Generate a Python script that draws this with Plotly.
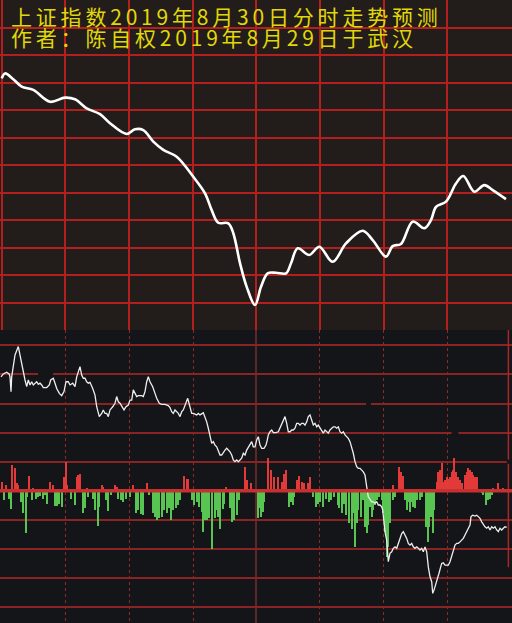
"""Shanghai index intraday forecast chart (upper: forecast curve, lower: tick line + volume bars)."""

import plotly.graph_objects as go

# ---- data -----------------------------------------------------------------
# time axis: 0..256 slots across the day (8 columns of 32)
top_t = [0.85, 2.5, 6.65, 10.85, 16.65, 25, 32.5, 37.5, 43.35, 50, 55, 63.35, 67.5,
         71.65, 76.65, 81.65, 88.35, 96.65, 102.5, 105.85, 109.15, 114.15, 116.65,
         120, 123.35, 127.5, 130.5, 133.85, 138, 143, 145.5, 148.85, 154.65, 159.65,
         166.35, 173, 181.35, 186.35, 193, 196.35, 200.5, 206.35, 212.15, 215.5, 218,
         223, 228, 231.65, 237.15, 242.15, 246.35, 253]
top_v = [91.5, 93.3, 91.2, 88.5, 87.3, 83.0, 84.5, 83.9, 80.6, 78.5, 75.2, 71.3, 73.0,
         72.7, 68.5, 65.5, 63.0, 55.7, 49.7, 43.6, 39.0, 38.8, 35.2,
         24.3, 15.7, 9.1, 15.7, 20.6, 20.8, 20.6, 24.3, 29.7, 27.3, 30.3,
         24.8, 31.5, 36.1, 32.7, 26.7, 30.5, 31.3, 39.4, 37.0, 40.0, 44.8,
         46.7, 53.3, 56.0, 50.3, 52.7, 50.9, 47.6]

# lower tick line, morning
line_t_am = [0.5, 1.65, 3.35, 4.65, 5, 5.5, 5.85, 6.35, 6.65, 7.5, 9.15, 10.35, 11.35,
             11.65, 12.5, 13.35, 14.15, 15, 15.85, 16.65, 18.35, 19.15, 20, 20.85, 21.65,
             23.35, 24.65, 25.35, 26.65, 27.5, 28.35, 29.65, 30.85, 32, 33, 34.15, 35,
             36.35, 37.5, 38.35, 39.15, 40, 40.85, 41.65, 42.5, 43.35, 44.15, 45, 46.35,
             47.5, 48.35, 49.65, 50.85, 51.65, 52.5, 53.35, 54.15, 55, 56.35, 57.5, 58.35,
             59.15, 60, 60.85, 62, 63, 64.15, 65, 65.85, 66.65, 67.5, 68.35, 69.15, 70.85,
             71.65, 72.5, 73.35, 74.15, 75, 76.35, 77.5, 78.35, 79.65, 80.85, 82.5, 84.15, 85]
line_v_am = [39.2, 40.2, 40.8, 40.1, 39.2, 34.1, 39.2, 42.1, 42.7, 46.7, 49.6, 45.6, 42.1,
             40.1, 38.1, 35.8, 38.1, 36.4, 37.5, 36.4, 37.5, 36.6, 37.0, 36.4, 35.5,
             35.5, 36.4, 38.1, 38.7, 37.0, 35.2, 33.5, 32.7, 34.1, 37.5, 37.5, 36.4,
             37.0, 35.8, 39.2, 41.0, 42.7, 39.8, 38.7, 38.7, 37.5, 37.0, 37.3, 35.2,
             32.9, 28.9, 25.5, 26.6, 27.8, 26.6, 26.6, 25.5, 27.8, 28.9, 30.1, 32.4,
             30.6, 30.1, 28.9, 27.8, 28.9, 29.5, 31.2, 31.2, 34.7, 33.5, 32.4, 32.7, 32.7,
             32.4, 34.1, 37.5, 39.2, 37.5, 35.8, 33.5, 31.8, 30.1, 29.7, 29.7, 29.3, 28.6]

# lower tick line, midday
line_t_mid = [85.85, 86.65, 87.5, 88.35, 89.15, 90, 90.85, 91.65, 92.5, 93.35, 93.85, 94.5,
              95.35, 95.85, 96.65, 98.35, 99.15, 100, 101.65, 102.5, 103.35, 104.15, 104.65,
              105.35, 105.85, 106.65, 107.5, 108.35, 109.15, 110, 110.85, 111.65, 112.5,
              113.35, 114.15, 115, 115.85, 116.65, 117.5, 118.35, 119.15, 120, 120.85,
              121.65, 122.5, 123.35, 124.15, 125, 125.85, 126.65, 127.5, 128.35, 129.15,
              130, 130.85, 132, 133, 133.65, 134.15, 135, 135.85, 136.65, 138, 139.15, 140,
              140.85, 141.65, 142.5, 143.35, 144.15, 145, 145.85, 146.65, 147.5, 148.35,
              149.15, 150, 150.85, 151.65, 152.5, 153.35, 154.15, 155, 155.85, 156.65,
              157.5, 158.35, 159.15, 160, 160.85, 161.65, 162.5, 163.35, 164.15, 165,
              165.85, 166.65, 167.5, 168.35, 169.15, 170]
line_v_mid = [27.2, 26.6, 27.8, 27.2, 26.6, 25.5, 27.2, 27.8, 29.5, 30.6, 31.8, 30.1,
              27.8, 26.6, 26.6, 26.1, 26.6, 26.1, 26.8, 25.5, 23.7, 21.5, 19.8,
              18.0, 16.3, 16.9, 15.7, 15.1, 14.0, 12.3, 12.3, 13.4, 14.0,
              14.6, 14.0, 13.4, 12.3, 10.6, 10.0, 10.6, 10.0, 10.6, 11.2,
              12.9, 12.3, 14.0, 15.1, 16.3, 16.9, 15.1, 15.1, 17.5, 18.6,
              15.7, 14.6, 14.6, 15.7, 17.5, 19.2, 20.3, 20.9, 20.0, 20.0, 20.3, 21.5,
              23.2, 24.3, 25.5, 23.2, 20.3, 20.3, 20.9, 20.9, 21.5, 23.2,
              23.2, 22.6, 23.2, 23.2, 22.6, 23.7, 25.5, 26.1, 24.3, 22.6,
              23.2, 22.0, 22.6, 21.5, 20.3, 19.8, 20.9, 20.3, 19.8, 20.9,
              21.5, 22.0, 22.0, 21.5, 22.0, 20.3]

# lower tick line, afternoon
line_t_pm = [170.85, 171.65, 172.5, 173.35, 174.15, 175, 175.85, 176.65, 177.5, 178.35,
             179.15, 180, 180.85, 181.65, 182.5, 183, 183.35, 184.15, 185, 185.85, 186.65,
             187.5, 188.35, 189.15, 190, 190.85, 191.35, 191.65, 192.15, 192.5, 193.35,
             193.85, 194.15, 195, 195.85, 196.65, 197.5, 198.35, 199.15, 200, 200.85,
             201.65, 202.5, 203.35, 204.15, 205, 205.85, 206.65, 207.5, 208.35, 209.15,
             210, 210.85, 211.65, 212.5, 213.35, 214.15, 215, 215.85, 216.35, 217, 217.85,
             218.65, 219.5, 220.35, 220.85, 221.65, 222.5, 223.35, 224.15, 225, 225.85,
             226.65, 227.5, 228.35, 229.15, 230, 230.85, 231.65, 232.5, 233.35, 234.15,
             235, 235.5, 236.35, 237.5, 238.35, 239.15, 240, 240.85, 241.65, 242.5,
             243.35, 244.15, 245, 245.85, 246.65, 247.5, 248.35, 249.15, 250, 250.85,
             251.65, 252.5, 253.35]
line_v_pm = [19.8, 20.3, 19.2, 18.6, 18.0, 16.9, 15.1, 12.9, 10.0, 8.3,
             7.7, 7.7, 7.1, 6.5, 5.4, 3.7, 1.4, -2.1, -3.2, -3.8, -3.8,
             -4.3, -3.8, -4.9, -4.9, -5.5, -6.6, -8.9, -11.2, -14.1, -17.0,
             -20.4, -24.4, -21.5, -21.0, -19.8, -19.3, -19.8, -18.1, -15.8, -14.7,
             -14.1, -15.2, -16.4, -18.1, -18.7, -18.1, -19.3, -19.8, -19.3, -19.8,
             -20.4, -19.8, -21.0, -19.3, -21.0, -26.2, -29.6, -31.3, -35.3, -34.2, -31.9,
             -30.7, -28.4, -26.2, -25.0, -24.8, -25.6, -25.6, -25.6, -24.4, -22.7,
             -20.4, -18.7, -18.1, -18.1, -17.6, -17.0, -16.4, -15.2, -14.1, -12.9,
             -11.8, -8.9, -8.4, -8.7, -8.4, -8.9, -9.5, -10.7, -11.8, -12.4,
             -12.9, -12.4, -13.5, -12.4, -12.9, -12.4, -13.5, -14.1, -12.9, -13.5,
             -12.9, -12.4, -12.6]

# buy (red) / sell (green) bars
red_t = [0.85, 3, 6.15, 7.5, 8.35, 9.15, 14.65, 16.65, 25, 26.65, 32, 32.85, 33.35, 38.35,
         39, 40, 43.35, 50.85, 51.65, 57.5, 58.35, 66.35, 73.35, 92.15, 93.35, 94.15, 113,
         122.5, 123.35, 125.35, 134.15, 135.5, 137.15, 138.85, 141, 142.15, 143, 148.35,
         149.65, 151, 152.15, 153.85, 155, 196.35, 199.5, 200.35, 201.65, 218.35, 219.15,
         220, 220.85, 221.65, 222.5, 223.35, 224.15, 225, 225.85, 226.65, 227.15, 228,
         229.15, 230, 230.85, 232.5, 233.35, 234.15, 235, 235.85, 236.65, 237.5, 238.35,
         246.65, 249.15, 251.65, 252.5]
red_v = [3.1, 2.0, 8.8, 7.7, 2.5, 2.0, 5.1, 0.8, 3.1, 2.0, 4.8, 10.0, 2.0, 4.8,
         5.4, 5.7, 0.8, 2.0, 1.4, 2.0, 1.4, 2.0, 2.5, 5.1, 3.9, 3.9, 1.4,
         8.3, 3.7, 2.8, 11.4, 7.1, 4.8, 4.8, 3.1, 5.9, 7.1, 3.7,
         5.1, 3.1, 2.5, 2.5, 4.6, 2.0, 8.3, 6.5, 5.1, 3.1, 6.5,
         7.1, 9.4, 3.1, 3.7, 4.8, 4.2, 4.8, 6.5, 7.1, 11.1, 6.5,
         4.8, 3.7, 2.5, 5.4, 6.5, 7.7, 7.1, 6.5, 5.4, 4.8, 4.8,
         0.8, 2.8, 0.8, 0.5]

green_t = [2, 4.65, 5.5, 10.35, 11.35, 13, 13.65, 15.85, 18, 19.15, 20, 21.35, 22.5, 23.65,
           27.5, 28.35, 29.65, 30.85, 35.35, 37.5, 41.35, 42.5, 44.15, 46.65, 47.5, 48.85,
           49.65, 53, 54.15, 55.35, 59.15, 60.35, 61.35, 63, 65, 68, 69.15, 70.35, 71.35,
           74.5, 76.35, 77.5, 78.65, 79.65, 80.85, 82, 83.35, 84.5, 85.5, 86.65, 87.85,
           89.15, 90, 95.85, 97, 98.35, 99.65, 100.85, 101.65, 102.5, 103.65, 104.65,
           106.15, 107.5, 108.35, 109.15, 110, 111.35, 112, 115, 115.85, 117.15, 118.35,
           119.65, 128.85, 129.65, 130.5, 131.35, 132.15, 144.65, 145.5, 146.35, 147.15,
           156.35, 158, 158.85, 160, 161.35, 163, 164.35, 165.5, 167.15, 168.85, 169.65,
           170.85, 172, 173, 174.65, 175.85, 176.65, 177.5, 178.35, 179.15, 180.35,
           181.35, 182.5, 183.35, 184.15, 185, 185.85, 186.65, 187.5, 188.35, 189.65,
           190.85, 191.65, 192.5, 193.35, 194.15, 195, 196.65, 197.5, 202.5, 203.35,
           204.15, 205, 205.85, 206.65, 207.5, 208.35, 210, 210.85, 213, 213.85, 214.65,
           215.5, 216.35, 217.15, 240.85, 241.65, 242.85, 243.85, 245, 245.85]
green_v = [-3.2, -2.7, -6.4, -3.8, -7.6, -14.7, -2.1, -3.2, -2.7, -2.1, -1.8, -2.7, -1.5, -4.4,
           -5.3, -5.3, -4.4, -5.5, -2.7, -4.9, -7.8, -6.1, -2.1, -2.7, -6.6, -12.2,
           -5.5, -3.2, -6.9, -1.5, -2.7, -3.2, -3.8, -2.7, -2.3, -7.8, -6.6, -8.0, -8.4,
           -1.5, -7.8, -9.0, -10.1, -9.5, -9.0, -6.6, -7.8, -6.1, -10.1, -6.6, -6.1,
           -4.9, -3.2, -3.2, -4.9, -3.8, -5.5, -7.2, -14.1, -9.9, -10.1, -9.5,
           -20.2, -9.5, -6.6, -9.0, -13.3, -6.4, -4.4, -6.1, -10.7, -10.1, -8.4,
           -3.2, -9.5, -6.1, -9.0, -7.2, -3.8, -5.5, -3.8, -4.9, -2.1,
           -2.1, -5.5, -4.4, -3.8, -5.5, -2.7, -3.8, -3.2, -2.1, -4.9, -6.1,
           -7.8, -4.4, -8.4, -11.2, -13.0, -7.8, -19.3, -11.2, -6.6, -9.0,
           -3.2, -12.4, -14.7, -11.8, -5.5, -9.0, -6.6, -4.9, -3.2, -2.1,
           -3.2, -7.8, -14.1, -22.7, -19.3, -11.2, -3.2, -2.1, -3.2, -6.6,
           -3.8, -7.2, -3.8, -5.5, -6.1, -3.2, -3.2, -2.1, -12.4, -17.6, -12.4,
           -9.0, -14.7, -6.6, -0.9, -1.5, -4.9, -3.2, -2.7, -1.5]

title_lines = ["上证指数2019年8月30日分时走势预测", "作者：陈自权2019年8月29日于武汉"]

line_t = line_t_am + line_t_mid + line_t_pm
line_v = line_v_am + line_v_mid + line_v_pm
assert len(line_t) == len(line_v) and len(red_t) == len(red_v) and len(green_t) == len(green_v)

# ---- styling --------------------------------------------------------------
W, H = 512, 623
SPLIT = 293 / 623  # paper y where upper panel starts
TOP_BG = "#221c1a"
LOW_BG = "#141518"
TOP_GRID = "#b31f1f"
LOW_GRID = "#8a2424"
YELLOW = "#e0d808"

fig = go.Figure()

fig.add_trace(go.Scatter(
    x=top_t, y=top_v, mode="lines", xaxis="x", yaxis="y",
    line=dict(color="#ffffff", width=2.6, shape="spline", smoothing=1.0),
    hoverinfo="skip", showlegend=False,
))
fig.add_trace(go.Bar(
    x=red_t, y=red_v, xaxis="x2", yaxis="y2", width=1.0,
    marker=dict(color="#e23a38", line=dict(width=0)), showlegend=False,
))
fig.add_trace(go.Bar(
    x=green_t, y=green_v, xaxis="x2", yaxis="y2", width=1.0,
    marker=dict(color="#58c452", line=dict(width=0)), showlegend=False,
))
fig.add_trace(go.Scatter(
    x=line_t, y=line_v, mode="lines", xaxis="x2", yaxis="y2",
    line=dict(color="#eeeeee", width=1.3),
    hoverinfo="skip", showlegend=False,
))

shapes = [
    dict(type="rect", xref="paper", yref="paper", x0=0, x1=1, y0=SPLIT, y1=1,
         fillcolor=TOP_BG, line=dict(width=0), layer="below"),
    # centre divider and right border of lower panel
    dict(type="line", xref="x2", yref="paper", x0=128, x1=128, y0=0, y1=SPLIT,
         line=dict(color="#7a2e2e", width=1.5), layer="between"),
    dict(type="line", xref="x2", yref="y2", x0=254.2, x1=254.2, y0=55.3, y1=-26.3,
         line=dict(color="#a82828", width=1.5), layer="between"),
    # bar baseline
    dict(type="line", xref="x2", yref="y2", x0=0, x1=256, y0=0, y1=0,
         line=dict(color="#c63030", width=3.5), layer="above"),
]
# small breaks in the lower grid lines
for x0, x1, yv in [(19, 26.5, 40), (183, 185.5, 30), (225.8, 229.2, 20), (253.4, 256, 10)]:
    shapes.append(dict(type="rect", xref="x2", yref="y2", x0=x0, x1=x1,
                       y0=yv - 0.7, y1=yv + 0.7, fillcolor=LOW_BG,
                       line=dict(width=0), layer="between"))

# two title rows, widely tracked like the original screenshot
annotations = []
for text, y, anchor in zip(title_lines, [1.0, 1 - 37.3 / H], ["top", "middle"]):
    annotations.append(dict(
        text=f'<span style="letter-spacing:3.8px">{text}</span>',
        xref="paper", yref="paper", x=10 / W, y=y,
        xanchor="left", yanchor=anchor, showarrow=False, borderpad=0,
        font=dict(family="Noto Sans CJK SC", size=21, color=YELLOW),
    ))

fig.update_layout(
    width=W, height=H,
    margin=dict(l=0, r=0, t=0, b=0),
    paper_bgcolor=LOW_BG, plot_bgcolor="rgba(0,0,0,0)",
    barmode="overlay", bargap=0,
    shapes=shapes, annotations=annotations,
    xaxis=dict(domain=[0, 1], anchor="y", range=[0, 256],
               tickvals=[0.75, 32.5, 64.5, 96.5, 128, 160, 192, 223.5, 255.5],
               showticklabels=False, ticks="", showgrid=True, gridcolor=TOP_GRID,
               gridwidth=1.6, zeroline=False, showline=False, fixedrange=True),
    yaxis=dict(domain=[SPLIT, 1], anchor="x", range=[0, 120], tick0=0, dtick=10,
               showticklabels=False, ticks="", showgrid=True, gridcolor=TOP_GRID,
               gridwidth=1.6, zeroline=False, showline=False, fixedrange=True),
    xaxis2=dict(domain=[0, 1], anchor="y2", range=[0, 256],
                tickvals=[32.5, 64.5, 96.5, 159.7, 191.7, 223.5],
                showticklabels=False, ticks="", showgrid=True, gridcolor="#8e2a2a",
                gridwidth=1.4, griddash="dot", zeroline=False, showline=False,
                fixedrange=True),
    yaxis2=dict(domain=[0, SPLIT], anchor="x2", range=[-45.5, 55.3],
                tickvals=[-40, -30, -20, -10, 10, 20, 30, 40, 50],
                showticklabels=False, ticks="", showgrid=True, gridcolor=LOW_GRID,
                gridwidth=2, zeroline=False, showline=False, fixedrange=True),
)

# page body has a default 8px margin; drop it so the chart fills the window
fig.write_html("out.html", config={"displayModeBar": False},
               post_script="document.body.style.margin='0';")
